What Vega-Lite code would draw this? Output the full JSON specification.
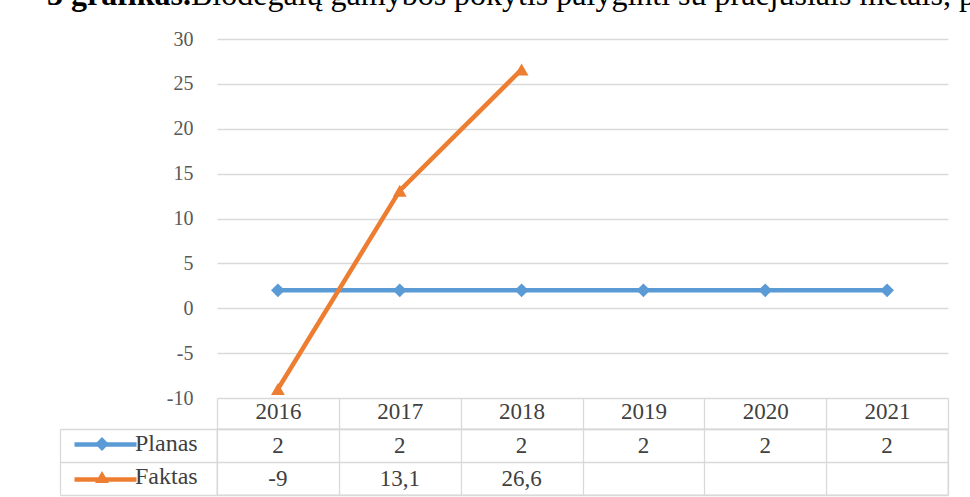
{
  "$schema": "https://vega.github.io/schema/vega-lite/v6.json",
  "background": "white",
  "padding": {"left": 47, "top": -21, "right": -5, "bottom": 0},
  "title": {
    "text": "3 grafikas.",
    "subtitle": "\u200b\u00a0\u00a0\u00a0\u00a0\u00a0\u00a0\u00a0\u00a0\u00a0\u00a0\u00a0\u00a0\u00a0\u00a0\u00a0\u00a0\u00a0\u00a0Biodegalų gamybos pokytis palyginti su praėjusiais metais, p",
    "anchor": "start",
    "frame": "group",
    "font": "Liberation Serif",
    "fontSize": 32,
    "fontWeight": "bold",
    "color": "#000000",
    "subtitleFont": "Liberation Serif",
    "subtitleFontSize": 32,
    "subtitleFontWeight": "normal",
    "subtitleColor": "#000000",
    "subtitlePadding": -32,
    "offset": 17,
    "dx": -170
  },
  "datasets": {
    "rows": [
      {"year": "2016", "series": "Planas", "value": 2},
      {"year": "2017", "series": "Planas", "value": 2},
      {"year": "2018", "series": "Planas", "value": 2},
      {"year": "2019", "series": "Planas", "value": 2},
      {"year": "2020", "series": "Planas", "value": 2},
      {"year": "2021", "series": "Planas", "value": 2},
      {"year": "2016", "series": "Faktas", "value": -9},
      {"year": "2017", "series": "Faktas", "value": 13.1},
      {"year": "2018", "series": "Faktas", "value": 26.6}
    ]
  },
  "bounds": "flush",
  "spacing": 31,
  "resolve": {"scale": {"x": "independent", "y": "independent"}},
  "vconcat": [
    {
      "width": 731,
      "height": 359,
      "data": {"name": "rows"},
      "view": {"stroke": null},
      "encoding": {
        "x": {"field": "year", "type": "ordinal", "scale": {"type": "point", "padding": 0.5}, "axis": null},
        "y": {
          "field": "value", "type": "quantitative",
          "scale": {"domain": [-10, 30], "nice": false, "zero": false},
          "axis": {
            "values": [-10, -5, 0, 5, 10, 15, 20, 25, 30],
            "title": null, "grid": true, "gridColor": "#D9D9D9", "gridWidth": 1.3,
            "domain": false, "ticks": false,
            "labelFont": "Liberation Serif", "labelFontSize": 20, "labelColor": "#595959", "labelPadding": 24
          }
        }
      },
      "layer": [
        {
          "mark": {"type": "line", "strokeWidth": 4.5},
          "encoding": {
            "stroke": {
              "field": "series", "type": "nominal", "sort": ["Planas", "Faktas"],
              "scale": {"range": ["#5B9BD5", "#ED7D31"]},
              "legend": {
                "orient": "none", "legendX": -124, "legendY": 393, "direction": "vertical",
                "title": null, "symbolType": "M-3.1,0H3.1", "symbolSize": 400, "symbolStrokeWidth": 4.5,
                "labelExpr": "''", "labelFontSize": 23, "rowPadding": 10
              }
            }
          }
        },
        {
          "mark": {"type": "point", "filled": true, "opacity": 1, "size": 190},
          "encoding": {
            "color": {
              "field": "series", "type": "nominal",
              "scale": {"domain": ["Planas", "Faktas"], "range": ["#5B9BD5", "#ED7D31"]},
              "legend": {
                "orient": "none", "legendX": -127, "legendY": 393, "direction": "vertical",
                "title": null, "symbolSize": 190, "symbolStrokeWidth": 0, "symbolOpacity": 1,
                "labelFont": "Liberation Serif", "labelFontSize": 24, "labelColor": "#404040",
                "labelOffset": 21, "rowPadding": 9
              }
            },
            "shape": {
              "field": "series", "type": "nominal",
              "scale": {"domain": ["Planas", "Faktas"], "range": ["diamond", "triangle-up"]},
              "legend": {
                "orient": "none", "legendX": -127, "legendY": 393, "direction": "vertical",
                "title": null, "symbolSize": 190, "symbolStrokeWidth": 0, "symbolOpacity": 1,
                "labelFont": "Liberation Serif", "labelFontSize": 24, "labelColor": "#404040",
                "labelOffset": 21, "rowPadding": 9
              }
            }
          }
        }
      ]
    },
    {
      "width": 731,
      "height": 66,
      "data": {"name": "rows"},
      "view": {"stroke": "#D9D9D9", "strokeWidth": 1.3},
      "mark": {"type": "text", "font": "Liberation Serif", "fontSize": 23, "color": "#404040"},
      "encoding": {
        "x": {
          "field": "year", "type": "ordinal",
          "scale": {"type": "band", "paddingInner": 0, "paddingOuter": 0},
          "axis": {
            "orient": "top", "title": null, "tickBand": "extent", "tickSize": 31,
            "tickColor": "#D9D9D9", "tickWidth": 1.3, "domainColor": "#D9D9D9", "domainWidth": 1.3,
            "grid": true, "gridColor": "#D9D9D9", "gridWidth": 1.3,
            "labelAngle": 0, "labelFont": "Liberation Serif", "labelFontSize": 23, "labelColor": "#404040",
            "labelPadding": -25
          }
        },
        "y": {
          "field": "series", "type": "nominal",
          "scale": {"domain": ["Planas", "Faktas"], "paddingInner": 0, "paddingOuter": 0},
          "axis": {
            "title": null, "offset": 157, "tickBand": "extent", "tickSize": -157,
            "tickColor": "#D9D9D9", "tickWidth": 1.3, "domainColor": "#D9D9D9", "domainWidth": 1.3,
            "grid": true, "gridColor": "#D9D9D9", "gridWidth": 1.3, "labels": false
          }
        },
        "text": {"field": "value", "type": "quantitative", "format": ".1~f"}
      }
    }
  ],
  "config": {
    "locale": {"number": {"decimal": ",", "thousands": " ", "grouping": [3], "currency": ["", " €"], "minus": "-"}}
  }
}
